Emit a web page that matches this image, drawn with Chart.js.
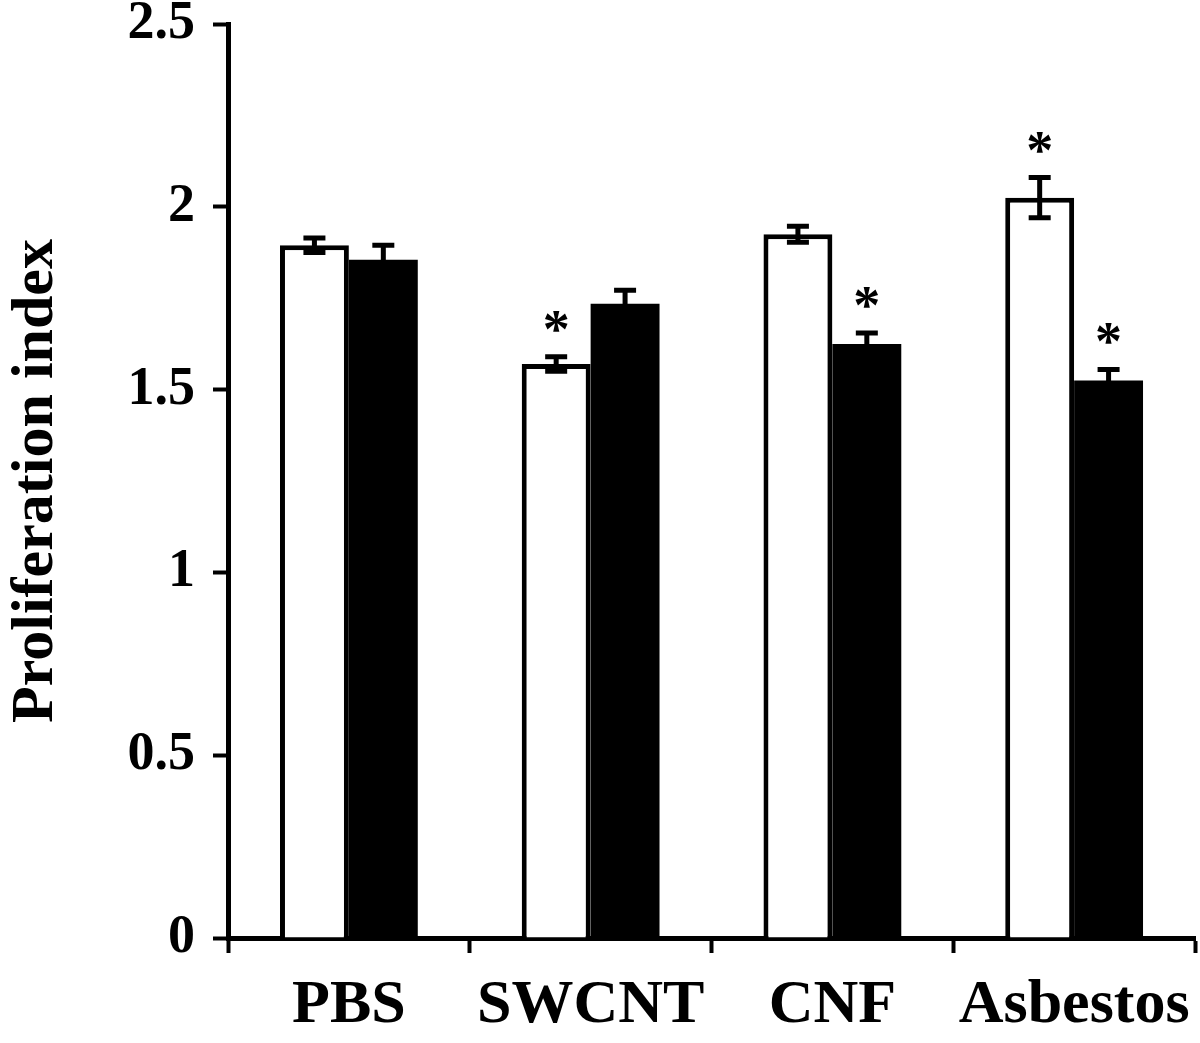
<!DOCTYPE html>
<html>
<head>
<meta charset="utf-8">
<script src="https://cdn.jsdelivr.net/npm/chart.js@4/dist/chart.umd.min.js"></script>
<style>
  html, body { margin: 0; padding: 0; background: #fff; }
  #wrap { width: 1200px; height: 1043px; }
</style>
</head>
<body>
<div id="wrap"><canvas id="myChart" width="1200" height="1043"></canvas></div>
<script>
(() => {
  //! DATA
  const categories = ["PBS", "SWCNT", "CNF", "Asbestos"];
  const whiteValues = [1.895, 1.57, 1.925, 2.025];
  const whiteErrors = [0.02, 0.02, 0.022, 0.055];
  const blackValues = [1.855, 1.735, 1.625, 1.525];
  const blackErrors = [0.04, 0.037, 0.03, 0.03];
  const whiteStars = [false, true, false, true];
  const blackStars = [false, false, true, true];
  const yMin = 0;
  const yMax = 2.5;
  const yStep = 0.5;

  const serif = "'Liberation Serif', 'Times New Roman', serif";

  // error bars + asterisks drawn on top of the bars
  const errorBars = {
    id: "errorBars",
    afterDatasetsDraw(chart) {
      const c = chart.ctx;
      const y = chart.scales.y;
      const errs = [whiteErrors, blackErrors];
      const stars = [whiteStars, blackStars];
      chart.data.datasets.forEach((ds, di) => {
        const meta = chart.getDatasetMeta(di);
        meta.data.forEach((bar, i) => {
          const v = ds.data[i];
          const e = errs[di][i];
          const top = y.getPixelForValue(v + e);
          const bot = y.getPixelForValue(v - e);
          c.save();
          c.strokeStyle = "#000";
          c.lineWidth = 5;
          c.beginPath();
          c.moveTo(bar.x, top);
          c.lineTo(bar.x, bot);
          c.moveTo(bar.x - 11, top);
          c.lineTo(bar.x + 11, top);
          c.moveTo(bar.x - 11, bot);
          c.lineTo(bar.x + 11, bot);
          c.stroke();
          if (stars[di][i]) {
            c.fillStyle = "#000";
            c.font = "bold 54px " + serif;
            c.textAlign = "center";
            c.textBaseline = "alphabetic";
            c.fillText("*", bar.x, top - 10);
          }
          c.restore();
        });
      });
    }
  };

  const ctx = document.getElementById("myChart");
  new Chart(ctx, {
    type: "bar",
    data: {
      labels: categories,
      datasets: [
        {
          data: whiteValues,
          backgroundColor: "#fff",
          borderColor: "#000",
          borderWidth: 5,
          borderSkipped: "start",
          categoryPercentage: 0.57,
          barPercentage: 1.0
        },
        {
          data: blackValues,
          backgroundColor: "#000",
          borderColor: "#000",
          borderWidth: 0,
          categoryPercentage: 0.57,
          barPercentage: 1.0
        }
      ]
    },
    options: {
      responsive: false,
      animation: false,
      devicePixelRatio: 1,
      layout: { padding: { top: 24, right: 5, left: 0, bottom: 0 } },
      plugins: { legend: { display: false }, tooltip: { enabled: false } },
      scales: {
        x: {
          grid: {
            display: true,
            drawOnChartArea: false,
            offset: true,
            tickLength: 15,
            tickWidth: 4,
            tickColor: "#000"
          },
          border: { display: true, color: "#000", width: 5 },
          ticks: {
            color: "#000",
            padding: 16,
            maxRotation: 0,
            font: { family: serif, size: 62, weight: "bold" }
          },
          afterFit(scale) {
            scale.height = 105;
            scale.paddingLeft = 0;
            scale.paddingRight = 0;
          }
        },
        y: {
          min: yMin,
          max: yMax,
          grid: {
            display: true,
            drawOnChartArea: false,
            tickLength: 15,
            tickWidth: 4,
            tickColor: "#000"
          },
          border: { display: true, color: "#000", width: 5 },
          ticks: {
            stepSize: yStep,
            color: "#000",
            padding: 18,
            font: { family: serif, size: 54, weight: "bold" },
            callback: (value) => String(value)
          },
          title: {
            display: true,
            text: "Proliferation index",
            color: "#000",
            padding: { top: 0, bottom: 0 },
            font: { family: serif, size: 60, weight: "bold" }
          },
          afterFit(scale) {
            scale.width = 228;
            scale.paddingTop = 0;
            scale.paddingBottom = 0;
          }
        }
      }
    },
    plugins: [errorBars]
  });
})();
</script>
</body>
</html>
